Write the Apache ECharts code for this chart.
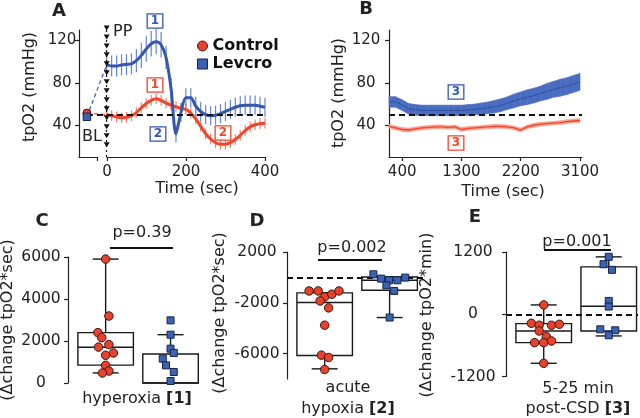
<!DOCTYPE html>
<html><head><meta charset="utf-8">
<script src="https://cdn.jsdelivr.net/npm/echarts@6/dist/echarts.min.js"></script>
<style>html,body{margin:0;padding:0;background:#fff}#c{width:640px;height:418px}</style>
</head><body><div id="c"></div>
<script>
// ---------- Panel A data ----------
const timeA = [0,12.5,25,37.5,50,62.5,75,87.5,100,112.5,125,137.5,150,162.5,175,187.5,200,212.5,225,237.5,250,262.5,275,287.5,300,312.5,325,337.5,350,362.5,375,387.5,400];
const levA = [97,96,96,97,97.5,98,101,106,112,117,119,116,104,75,32,52,66,66,58,53,50,49,49.5,51,53,55,57,58.5,59,59,59,58,57];
const levErrA = [10,10,10,10,10,10,11,12,12,12,12,12,11,10,8,9,9,9,9,9,9,9,9,9,9,9,9,9,9,9,9,9,9];
const ctrlA = [50,49,48,47,47.5,49,52,56.5,60.5,63.5,65,63.5,61,59,57.5,56,55,51.5,46,39,32,27,23.5,22,22,23.5,26.5,30.5,35,38.5,40.5,41.5,42];
const ctrlErrA = [5,5,5,5,5,5,5,5,5,5,5,5,5,5,5,5,5,5,5,5,5,5,5,5,5,5,5,5,5,5,5,5,5];
const blTime = -50, blCtrl = 51.5, blLev = 48, baselineA = 50;
const ppMarksY = [132,123.5,115,106.5,98,89.5,81,72.5,64,55.5,47,38.5,30,21.5];
const ticksA_Y = [40,80,120];
// ---------- Panel B data ----------
const timeB = [200,300,400,500,600,700,800,900,1000,1100,1200,1300,1400,1500,1600,1700,1800,1900,2000,2100,2200,2300,2400,2500,2600,2700,2800,2900,3000,3100];
const levB = [62,62,59,55.5,54.5,54,54,54,54,54,54,54,54.5,55,55.5,56.5,57.5,59,61,63,65,66.5,68,70,72,74,75.5,77,79,81];
const levErrB = [5,5,5,5,5,5,5,5,5,5,5,5,5,5,5.5,5.5,6,6,6,6.5,6.5,7,7,7,7.5,7.5,8,8,8,8];
const ctrlB = [39,37.5,36,35.5,36.5,37.5,38,38.5,38.5,38,38.5,36,37,37.5,38,38.5,39,39,38.5,37.5,35.5,38.5,40,41,41.5,42,42.5,43.5,44,44.5];
const ctrlErrB = [1.8,1.8,1.8,1.8,1.8,1.8,1.8,1.8,1.8,1.8,1.8,1.8,1.8,1.8,1.8,1.8,1.8,1.8,1.8,1.8,1.8,1.8,1.8,1.8,1.8,1.8,1.8,1.8,1.8,1.8];
const ticksB_X = [400,1300,2200,3100];
// ---------- Panels C-E data (box stats: [min,Q1,median,Q3,max]) ----------
const ctrlC = [5900,3190,2400,2160,1710,1830,1430,1320,840,570,476];
const ctrlCjit = [0,0.05,-0.12,-0.06,-0.11,0.05,0.12,0,0,0.05,-0.05];
const levC = [2984,2300,1635,1430,1160,840,524,95];
const levCjit = [0,0,0,0.05,-0.12,-0.07,0.05,0];
const boxC = [[480,850,1700,2400,5900],[450,0,0,1380,2300]];
const ctrlD = [-1065,-1065,-1537,-1327,-1065,-1851,-2400,-3764,-6122,-6305,-7249];
const ctrlDjit = [-0.24,-0.1,0,0.11,0.22,-0.07,0.06,0,-0.05,0.06,0];
const levD = [245,-96,-227,-227,-17,-620,-1065,-3161];
const levDjit = [-0.25,-0.13,-0.01,0.12,0.24,-0.05,0.07,0];
const boxD = [[-7200,-6150,-1980,-1220,-1220],[-3160,-1010,-230,30,30]];
const ticksD_Y = [-6000,-2000,2000];
const ctrlE = [180,-174,-212,-212,-193,-322,-431,-547,-547,-515,-946];
const ctrlEjit = [0,-0.19,-0.07,0.12,0.24,-0.07,0.04,-0.14,0,0.12,0];
const levE = [1107,965,856,257,148,-290,-309,-405];
const levEjit = [0,-0.08,0.05,0,0,-0.13,0.1,0];
const boxE = [[-945,-547,-322,-180,180],[-418,-322,154,913,1106]];

// ---------- styles ----------
const FONT = 'DejaVu Sans';
const RED = '#f0462c', BLUE = '#3657b0', REDERR = '#f7806c', BLUEERR = '#6486d2';
const PT_RED = '#e8412c', PT_BLUE = '#3d62b3';
const INK = '#222';
const BOX_W = 0.855, CAP_W = 0.4;

const chart = echarts.init(document.getElementById('c'), null, {renderer:'canvas', width:640, height:418});

const axLine = {show:true, onZero:false, lineStyle:{color:INK, width:1.2}};
const tick = (extra)=>Object.assign({show:true, length:4, inside:false, lineStyle:{color:INK, width:1.2}}, extra||{});
const lbl = (extra)=>Object.assign({show:true, color:INK, fontSize:15, fontFamily:FONT, formatter:v=>String(v)}, extra||{});
const noSplit = {show:false};

const gridDefs = [
  {left:79, top:30, width:186, height:127},
  {left:79, top:30, width:18, height:127},
  {left:107, top:30, width:158, height:127},
  {left:389, top:30, width:193, height:127},
  {left:68, top:257, width:135, height:126},
  {left:287, top:252, width:139, height:127},
  {left:506, top:252, width:132, height:124.5}
].map(g=>Object.assign({outerBoundsMode:'none', containLabel:false}, g));

const hiddenX = (gi,min,max)=>({gridIndex:gi, type:'value', min, max, show:false, splitLine:noSplit});
const hiddenY = (gi,min,max)=>({gridIndex:gi, type:'value', min, max, show:false, splitLine:noSplit});

const xAxis = [
  hiddenX(0,-70,400),
  {gridIndex:1, type:'value', min:-70, max:-25, axisLine:axLine, axisTick:tick({customValues:[-25]}), axisLabel:{show:false}, splitLine:noSplit},
  {gridIndex:2, type:'value', min:0, max:400, interval:200, axisLine:axLine, axisTick:tick(), axisLabel:lbl({margin:8}), splitLine:noSplit},
  {gridIndex:3, type:'value', min:200, max:3130, axisLine:axLine, axisTick:tick({customValues:ticksB_X}), axisLabel:lbl({margin:8, customValues:ticksB_X}), splitLine:noSplit},
  hiddenX(4,-0.58,1.5),
  hiddenX(5,-0.58,1.56),
  hiddenX(6,-0.58,1.45)
];
const yAxis = [
  {gridIndex:0, type:'value', min:10, max:130, axisLine:axLine, axisTick:tick({customValues:ticksA_Y}), axisLabel:lbl({customValues:ticksA_Y, align:'center', margin:17}), splitLine:noSplit},
  hiddenY(1,10,130),
  hiddenY(2,10,130),
  {gridIndex:3, type:'value', min:10, max:130, axisLine:axLine, axisTick:tick({customValues:ticksA_Y}), axisLabel:lbl({customValues:ticksA_Y, align:'center', margin:23}), splitLine:noSplit},
  {gridIndex:4, type:'value', min:0, max:6000, interval:2000, axisLine:axLine, axisTick:tick(), axisLabel:lbl({align:'center', margin:27, fontSize:15.5}), splitLine:noSplit},
  {gridIndex:5, type:'value', min:-8000, max:2000, axisLine:axLine, axisTick:tick({customValues:ticksD_Y}), axisLabel:lbl({customValues:ticksD_Y, align:'center', margin:30, fontSize:15.5}), splitLine:noSplit},
  {gridIndex:6, type:'value', min:-1200, max:1200, interval:1200, axisLine:axLine, axisTick:tick(), axisLabel:lbl({align:'center', margin:33, fontSize:15.5}), splitLine:noSplit}
];

const errRender = (color,w)=>(p,api)=>{
  const a = api.coord([api.value(0), api.value(1)]);
  const b = api.coord([api.value(0), api.value(2)]);
  return {type:'line', shape:{x1:a[0],y1:a[1],x2:b[0],y2:b[1]}, style:{stroke:color, lineWidth:w}};
};
function errSeries(gi, xs, ys, es, color, w, z){
  return {type:'custom', xAxisIndex:gi, yAxisIndex:gi, silent:true, z,
    data: xs.map((x,i)=>[x, ys[i]-es[i], ys[i]+es[i]]), encode:{x:0, y:[1,2]},
    renderItem: errRender(color,w)};
}
function bandSeries(gi, xs, ys, es, color, z){
  return {type:'custom', xAxisIndex:gi, yAxisIndex:gi, silent:true, z,
    data: xs.map((x,i)=>[x, ys[i]-es[i], ys[i]+es[i]]), encode:{x:0, y:[1,2]},
    renderItem:(p,api)=>{
      const i = p.dataIndex; if (i >= xs.length-1) return null; const j = i+1;
      const pts = [api.coord([xs[i], ys[i]-es[i]]), api.coord([xs[j], ys[j]-es[j]]),
                   api.coord([xs[j], ys[j]+es[j]]), api.coord([xs[i], ys[i]+es[i]])];
      return {type:'polygon', shape:{points:pts}, style:{fill:color, stroke:color, lineWidth:0.6}};
    }};
}
function lineSeries(gi, name, xs, ys, color, w, z, smooth){
  return {type:'line', name, xAxisIndex:gi, yAxisIndex:gi, data: xs.map((x,i)=>[x, ys[i]]),
    symbol:'none', showSymbol:false, smooth: smooth||false, lineStyle:{color, width:w}, itemStyle:{color}, z, silent:true};
}
function boxSeries(gi, stats, markY){
  const s = {type:'custom', xAxisIndex:gi, yAxisIndex:gi, silent:true, z:3,
    data: stats.map((st,i)=>[i].concat(st)), encode:{x:0, y:[1,2,3,4,5]},
    renderItem:(p,api)=>{
      const x = api.value(0);
      const mn=api.value(1), q1=api.value(2), md=api.value(3), q3=api.value(4), mx=api.value(5);
      const hw = BOX_W/2, cw = CAP_W/2;
      const ln = (x1,y1,x2,y2)=>{const a=api.coord([x1,y1]), b=api.coord([x2,y2]);
        return {type:'line', shape:{x1:a[0],y1:a[1],x2:b[0],y2:b[1]}, style:{stroke:'#1a1a1a', lineWidth:1.4}};};
      const tl = api.coord([x-hw, q3]), br = api.coord([x+hw, q1]);
      return {type:'group', children:[
        ln(x,q3,x,mx), ln(x-cw,mx,x+cw,mx),
        ln(x,q1,x,mn), ln(x-cw,mn,x+cw,mn),
        {type:'rect', shape:{x:tl[0], y:tl[1], width:br[0]-tl[0], height:br[1]-tl[1]}, style:{fill:'#fff', stroke:'#1a1a1a', lineWidth:1.4}},
        ln(x-hw,md,x+hw,md)
      ]};
    }};
  return s;
}
function pts(gi, cat, vals, jit, kind, markZero){
  const s = {type:'scatter', xAxisIndex:gi, yAxisIndex:gi, silent:true, z:5, clip:false,
    data: vals.map((v,i)=>[cat + jit[i], v]),
    symbol: kind==='c' ? 'circle' : 'rect', symbolSize: kind==='c' ? 8.5 : 7,
    itemStyle: kind==='c' ? {color:PT_RED, borderColor:'#3a1a12', borderWidth:1, opacity:1}
                          : {color:PT_BLUE, borderColor:'#15244a', borderWidth:1, opacity:1}};
  if (markZero) s.markLine = {silent:true, symbol:['none','none'], label:{show:false}, animation:false,
      lineStyle:{color:'#111', type:[6,4], width:2}, data:[{yAxis:0}]};
  return s;
}

const series = [
  // Panel A
  errSeries(0, timeA, ctrlA, ctrlErrA, REDERR, 1.2, 2),
  errSeries(0, timeA, levA, levErrA, BLUEERR, 1.2, 2),
  lineSeries(0, 'Control', timeA, ctrlA, RED, 3, 4, 0.3),
  lineSeries(0, 'Levcro', timeA, levA, BLUE, 3, 4, 0.3),
  Object.assign(lineSeries(0, 'blRed', [blTime, timeA[0]], [blCtrl, ctrlA[0]], RED, 1.2, 3), {lineStyle:{color:RED, width:1.2, type:[4,3]},
    markLine:{silent:true, symbol:['none','none'], label:{show:false}, animation:false, lineStyle:{color:'#111', type:[6,4], width:2},
      data:[[{coord:[blTime, baselineA]},{coord:[timeA[timeA.length-1], baselineA]}]]}}),
  Object.assign(lineSeries(0, 'blBlue', [blTime, timeA[0]], [blLev, levA[0]], BLUE, 1.2, 3), {lineStyle:{color:BLUE, width:1.2, type:[4,3]}}),
  {type:'scatter', xAxisIndex:0, yAxisIndex:0, silent:true, z:6, clip:false, data: ppMarksY.map(y=>[0,y]),
    symbol:'triangle', symbolRotate:180, symbolSize:[6,5], itemStyle:{color:'#111', opacity:1},
    markLine:{silent:true, symbol:['none','none'], label:{show:false}, animation:false, lineStyle:{color:'#111', type:[2,3], width:1.2}, data:[{xAxis:0}]}},
  {type:'scatter', xAxisIndex:0, yAxisIndex:0, silent:true, z:7, clip:false, data:[[blTime, blCtrl]], symbol:'circle', symbolSize:8,
    itemStyle:{color:PT_RED, borderColor:'#3a1a12', borderWidth:1, opacity:1}},
  {type:'scatter', xAxisIndex:0, yAxisIndex:0, silent:true, z:8, clip:false, data:[[blTime, blLev]], symbol:'rect', symbolSize:7.5,
    itemStyle:{color:PT_BLUE, borderColor:'#15244a', borderWidth:1, opacity:1}},
  // Panel B
  bandSeries(3, timeB, levB, levErrB, '#4a6cc0', 2),
  lineSeries(3, 'levB', timeB, levB, '#2f4f9f', 1, 3),
  bandSeries(3, timeB, ctrlB, ctrlErrB, '#f8a08e', 2),
  Object.assign(lineSeries(3, 'ctrlB', timeB, ctrlB, RED, 1.3, 3), {markLine:{silent:true, symbol:['none','none'], label:{show:false}, animation:false,
      lineStyle:{color:'#111', type:[6,4], width:2}, data:[{yAxis:baselineA}]}}),
  // Panel C
  boxSeries(4, boxC), pts(4, 0, ctrlC, ctrlCjit, 'c'), pts(4, 1, levC, levCjit, 's'),
  // Panel D
  pts(5, 0, ctrlD, ctrlDjit, 'c', true), boxSeries(5, boxD), pts(5, 1, levD, levDjit, 's'),
  // Panel E
  pts(6, 0, ctrlE, ctrlEjit, 'c', true), boxSeries(6, boxE), pts(6, 1, levE, levEjit, 's')
];

const txt = (text, x, y, opt)=>Object.assign({type:'text', x, y, z:100, silent:true,
  style:Object.assign({text, fill:INK, font:`16px "${FONT}"`, textAlign:'center', textVerticalAlign:'middle'}, (opt&&opt.style)||{})},
  (opt&&opt.el)||{});
const vtxt = (text, x, y)=>txt(text, x, y, {el:{rotation:Math.PI/2}});
const boxNum = (t, x, y, col)=>txt(t, x, y, {style:{fill:col, font:`bold 12px "${FONT}"`, backgroundColor:'#fff', borderColor:col, borderWidth:1.3, padding:[1,3,0,3]}});
const hline = (x1, x2, y)=>({type:'line', z:100, silent:true, shape:{x1, y1:y, x2, y2:y}, style:{stroke:'#111', lineWidth:2.2}});
const rich = {b:{fontWeight:'bold', fontSize:16, fontFamily:FONT, fill:INK}};

const graphic = [
  txt('A', 59, 11, {style:{font:`bold 18px "${FONT}"`}}),
  txt('B', 366, 9, {style:{font:`bold 18px "${FONT}"`}}),
  txt('C', 42, 221, {style:{font:`bold 18px "${FONT}"`}}),
  txt('D', 257, 221, {style:{font:`bold 18px "${FONT}"`}}),
  txt('E', 475, 217, {style:{font:`bold 18px "${FONT}"`}}),
  vtxt('tpO2 (mmHg)', 30, 87),
  vtxt('tpO2 (mmHg)', 339, 93),
  vtxt('(\u0394change tpO2*sec)', 8, 320),
  vtxt('(\u0394change tpO2*sec)', 220, 313),
  vtxt('(\u0394change tpO2*min)', 427, 315),
  txt('Time (sec)', 197, 189),
  txt('Time (sec)', 503, 192),
  txt('PP', 113, 32, {style:{textAlign:'left'}}),
  txt('BL', 82, 137, {style:{textAlign:'left'}}),
  boxNum('1', 155, 21, BLUE), boxNum('2', 158, 134, BLUE),
  boxNum('1', 155, 85, RED), boxNum('2', 223, 133, RED),
  boxNum('3', 456, 92, BLUE), boxNum('3', 456, 143, RED),
  txt('p=0.39', 142, 233), hline(110, 173, 248),
  txt('p=0.002', 352, 248), hline(318, 382, 260),
  txt('p=0.001', 577, 242), hline(544, 611, 250),
  txt('hyperoxia {b|[1]}', 137, 399, {style:{rich}}),
  txt('acute\nhypoxia {b|[2]}', 348, 398, {style:{rich, lineHeight:21}}),
  txt('5-25 min\npost-CSD {b|[3]}', 578, 399, {style:{rich, lineHeight:20}})
];

chart.setOption({
  animation:false,
  backgroundColor:'#fff',
  textStyle:{fontFamily:FONT},
  grid: gridDefs,
  xAxis, yAxis,
  legend:{show:true, orient:'vertical', left:192, top:33, itemWidth:10, itemHeight:10, itemGap:2,
    textStyle:{fontFamily:FONT, fontSize:16, fontWeight:'bold', color:'#111'},
    data:[{name:'Control', icon:'circle', itemStyle:{color:PT_RED, borderColor:'#3a1a12', borderWidth:1}},
          {name:'Levcro', icon:'rect', itemStyle:{color:PT_BLUE, borderColor:'#15244a', borderWidth:1}}]},
  series,
  graphic
});
</script>
</body></html>
